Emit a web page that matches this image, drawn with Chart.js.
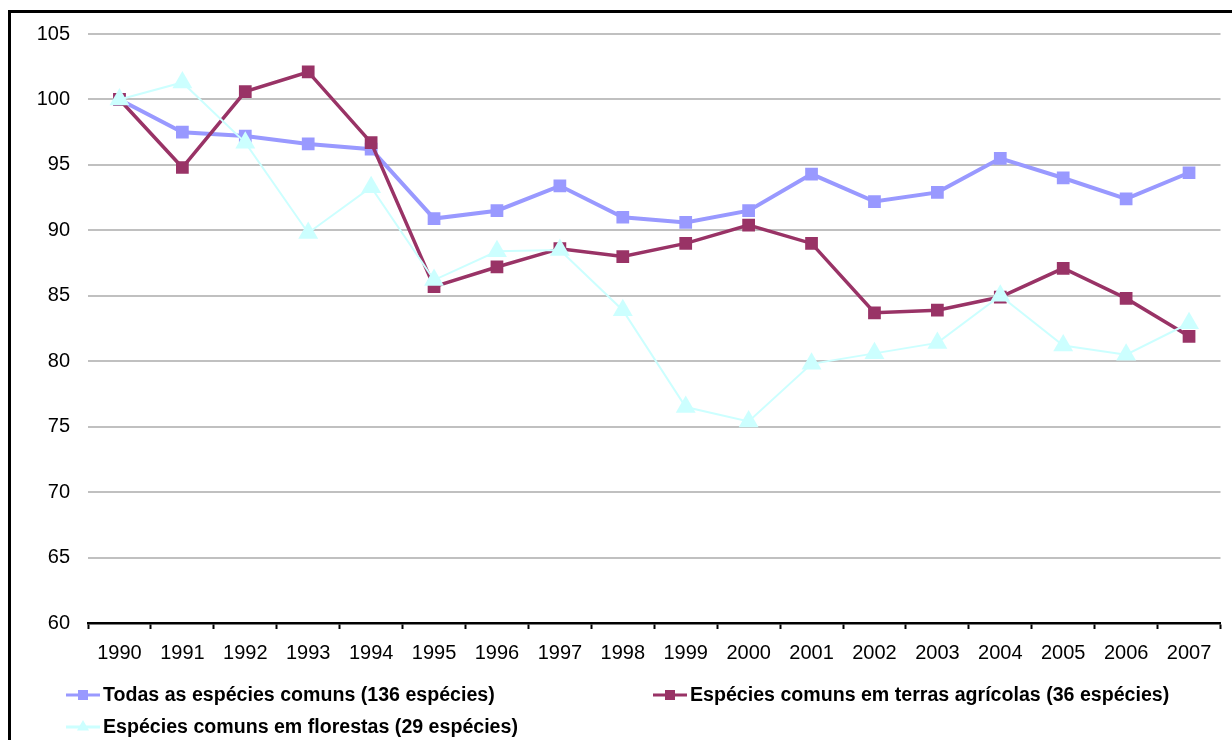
<!DOCTYPE html>
<html>
<head>
<meta charset="utf-8">
<title>Índice de aves comuns</title>
<script src="https://cdn.jsdelivr.net/npm/chart.js@4/dist/chart.umd.min.js"></script>
<style>
  html, body { margin: 0; padding: 0; background: #fff; overflow: hidden; }
  #wrap { position: relative; width: 1232px; height: 740px; }
  #frame {
    position: absolute; left: 8px; top: 10px; width: 1400px; height: 900px;
    border-left: 3px solid #000; border-top: 3px solid #000; box-sizing: border-box;
  }
  #chart { position: absolute; left: 0; top: 0; }
</style>
</head>
<body>
<div id="wrap">
  <div id="frame"></div>
  <canvas id="chart" width="1232" height="740"></canvas>
</div>
<script>
// Categories (years) and index values, 1990 = 100
const years = ['1990','1991','1992','1993','1994','1995','1996','1997','1998','1999',
               '2000','2001','2002','2003','2004','2005','2006','2007'];

const todas = [100, 97.5, 97.2, 96.6, 96.2, 90.9, 91.5, 93.4, 91.0, 90.6,
               91.5, 94.3, 92.2, 92.9, 95.5, 94.0, 92.4, 94.4];

const agricolas = [100, 94.8, 100.6, 102.1, 96.7, 85.7, 87.2, 88.6, 88.0, 89.0,
                   90.4, 89.0, 83.7, 83.9, 84.9, 87.1, 84.8, 81.9];

const florestas = [100, 101.3, 96.7, 89.8, 93.3, 86.2, 88.4, 88.5, 83.9, 76.5,
                   75.4, 79.8, 80.6, 81.4, 85.0, 81.2, 80.5, 82.9];

const yTicks = [60, 65, 70, 75, 80, 85, 90, 95, 100, 105];

const seriesNames = [
  'Todas as espécies comuns (136 espécies)',
  'Espécies comuns em terras agrícolas (36 espécies)',
  'Espécies comuns em florestas (29 espécies)'
];

const FONT = '"Liberation Sans", Arial, sans-serif';

// Legend laid out in two columns below the axis
const legendSlots = [
  { x: 66,  y: 695 },
  { x: 653, y: 695 },
  { x: 66,  y: 727 }
];

const gridLegend = {
  id: 'gridLegend',
  afterDraw(chart) {
    const ctx = chart.ctx;
    chart.data.datasets.forEach((ds, i) => {
      const slot = legendSlots[i];
      if (!slot) return;
      ctx.save();
      // line sample
      ctx.strokeStyle = ds.borderColor;
      ctx.lineWidth = 3;
      ctx.beginPath();
      ctx.moveTo(slot.x, slot.y);
      ctx.lineTo(slot.x + 34, slot.y);
      ctx.stroke();
      // marker sample
      const cx = slot.x + 17;
      ctx.fillStyle = ds.backgroundColor;
      if (ds.pointStyle === 'triangle') {
        const r = 7;
        ctx.beginPath();
        ctx.moveTo(cx, slot.y - r);
        ctx.lineTo(cx + r * 0.866, slot.y + r * 0.5);
        ctx.lineTo(cx - r * 0.866, slot.y + r * 0.5);
        ctx.closePath();
        ctx.fill();
      } else {
        ctx.fillRect(cx - 5, slot.y - 5, 10, 10);
      }
      // label
      ctx.fillStyle = '#000';
      ctx.font = 'bold 19.6px ' + FONT;
      ctx.textBaseline = 'middle';
      ctx.textAlign = 'left';
      ctx.fillText(ds.label, slot.x + 37, slot.y + 1);
      ctx.restore();
    });
  }
};

new Chart(document.getElementById('chart'), {
  type: 'line',
  data: {
    labels: years,
    datasets: [
      {
        label: seriesNames[0], data: todas,
        borderColor: '#9999FF', backgroundColor: '#9999FF',
        borderWidth: 4, pointStyle: 'rect', pointRadius: 9,
        pointBorderWidth: 0, order: 3
      },
      {
        label: seriesNames[1], data: agricolas,
        borderColor: '#993366', backgroundColor: '#993366',
        borderWidth: 3.5, pointStyle: 'rect', pointRadius: 9,
        pointBorderWidth: 0, order: 2
      },
      {
        label: seriesNames[2], data: florestas,
        borderColor: '#CCFFFF', backgroundColor: '#CCFFFF',
        borderWidth: 2, pointStyle: 'triangle', pointRadius: 11.5,
        pointBorderWidth: 0, order: 1
      }
    ]
  },
  options: {
    responsive: false,
    animation: false,
    devicePixelRatio: 1,
    layout: { padding: { left: 0, top: 34, right: 8, bottom: 0 } },
    elements: { line: { tension: 0 } },
    plugins: { legend: { display: false }, tooltip: { enabled: false } },
    scales: {
      x: {
        offset: true,
        grid: {
          offset: true, drawOnChartArea: false, drawTicks: true,
          tickLength: 6, tickColor: '#000', tickWidth: 2
        },
        border: { display: true, color: '#000', width: 2.5 },
        ticks: {
          autoSkip: false, maxRotation: 0, color: '#000', padding: 12,
          font: { family: FONT, size: 20 }
        },
        afterFit(scale) { scale.height = 117; }
      },
      y: {
        min: 60, max: 105,
        afterBuildTicks(scale) { scale.ticks = yTicks.map(v => ({ value: v })); },
        grid: { color: '#c0c0c0', lineWidth: 2, drawTicks: false },
        border: { display: false },
        ticks: {
          color: '#000', padding: 18,
          font: { family: FONT, size: 20 }
        },
        afterFit(scale) { scale.width = 88; }
      }
    }
  },
  plugins: [gridLegend]
});
</script>
</body>
</html>
